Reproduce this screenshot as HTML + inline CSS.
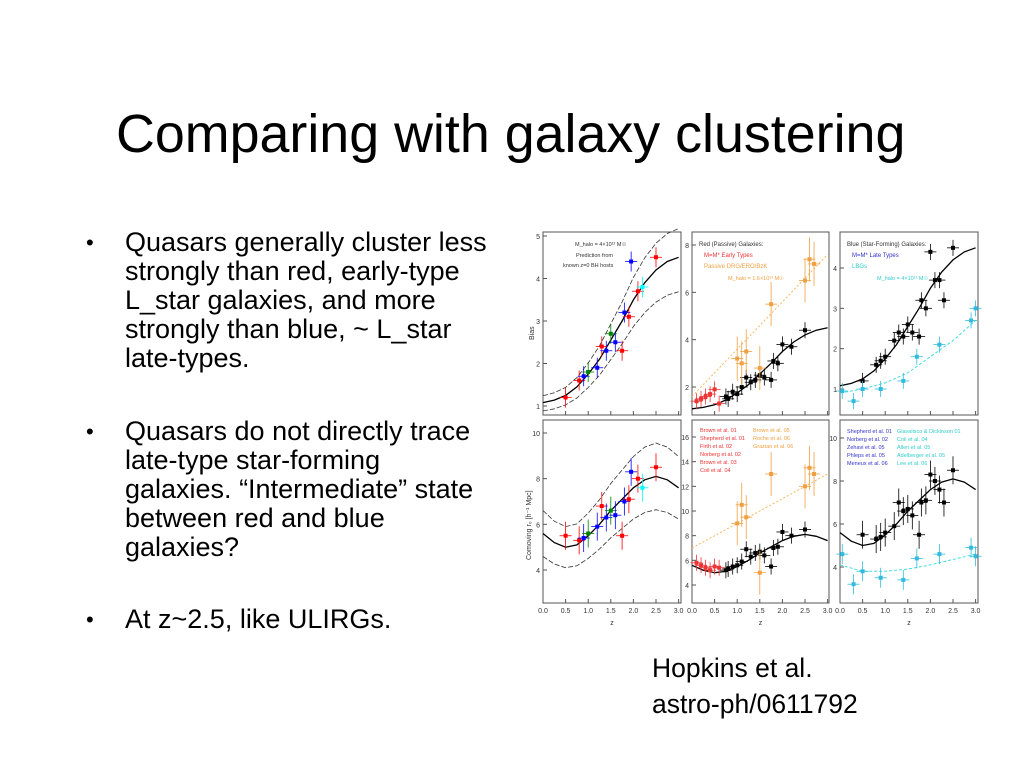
<!DOCTYPE html>
<html><head><meta charset="utf-8"><style>
body{margin:0;width:1024px;height:768px;background:#fff;position:relative;overflow:hidden;font-family:"Liberation Sans",sans-serif;color:#000}
h1{position:absolute;left:116px;top:103px;margin:0;font-weight:normal;font-size:53.8px;letter-spacing:0px;white-space:nowrap}
ul{position:absolute;left:86px;top:228px;width:440px;margin:0;padding:0;list-style:none;font-size:27px;line-height:29px;white-space:nowrap}
li{position:relative;padding-left:39px;margin-bottom:43.5px}
li:before{content:"•";position:absolute;left:0;top:0;font-size:22px}
.cite{position:absolute;left:652px;top:650px;font-size:26.5px;line-height:36px}
svg{position:absolute;left:0;top:0}
</style></head><body>
<h1>Comparing with galaxy clustering</h1>
<ul>
<li>Quasars generally cluster less<br>strongly than red, early-type<br>L_star galaxies, and more<br>strongly than blue, ~ L_star<br>late-types.</li>
<li>Quasars do not directly trace<br>late-type star-forming<br>galaxies. “Intermediate” state<br>between red and blue<br>galaxies?</li>
<li>At z~2.5, like ULIRGs.</li>
</ul>
<div class="cite">Hopkins et al.<br>astro-ph/0611792</div>
<svg id="fig" width="1024" height="768"></svg>
<script>
const zTicks=[0,0.5,1,1.5,2,2.5,3];
const zTickLabels=["0.0","0.5","1.0","1.5","2.0","2.5","3.0"];
const predZ=[0,0.25,0.5,0.75,1,1.25,1.5,1.75,2,2.25,2.5,2.75,3];
const predBias=[1.08,1.14,1.25,1.45,1.75,2.1,2.55,3.0,3.5,3.9,4.2,4.4,4.5];
const predR0=[5.6,5.2,5.0,5.1,5.5,6.0,6.6,7.1,7.6,7.95,8.1,7.95,7.6];
const qsoZ=[0.5,0.8,0.9,1.0,1.2,1.3,1.4,1.5,1.6,1.75,1.8,1.9,1.95,2.1,2.2,2.5];
const qsoBias=[1.2,1.6,1.7,1.8,1.9,2.4,2.3,2.7,2.5,2.3,3.2,3.1,4.4,3.7,3.8,4.5];
const qsoR0=[5.5,5.3,5.4,5.6,5.9,6.8,6.3,6.6,6.4,5.5,7.0,7.1,8.3,8.0,7.6,8.5];
const qsoColors=["red","red","blue","green","blue","red","blue","green","blue","red","blue","red","blue","red","cyan","red"];
const redZ=[0.1,0.2,0.3,0.4,0.5,0.6,0.75,0.8,0.9,1.0,1.1,1.2,1.3,1.4,1.5,1.6,1.75,1.8,1.9,2.0,2.2,2.5];
const redBias=[1.4,1.5,1.6,1.7,1.9,1.3,1.6,1.5,1.8,1.7,2.0,2.4,2.2,2.3,2.5,2.4,2.3,3.1,3.0,3.8,3.7,4.4];
const redR0=[5.8,5.6,5.4,5.2,5.5,5.4,5.2,5.3,5.5,5.6,5.9,6.9,6.3,6.6,6.7,6.4,5.5,7.0,7.1,8.3,8.0,8.5];
const oraZ=[1.0,1.1,1.2,1.5,1.75,2.5,2.6,2.7];
const oraBias=[3.2,3.0,3.5,2.8,5.5,6.5,7.4,7.2];
const oraR0=[9,10.5,9.5,5,13,12,13.5,13];
const blueZ=[0.5,0.8,0.9,1.0,1.2,1.3,1.4,1.5,1.6,1.75,1.8,1.9,2.0,2.1,2.2,2.3,2.5];
const blueBias=[1.2,1.6,1.7,1.8,2.2,2.4,2.3,2.6,2.4,2.3,3.2,3.0,4.4,3.7,3.7,3.2,4.5];
const blueR0=[5.5,5.3,5.4,5.6,5.9,7.0,6.6,6.7,6.4,5.5,7.0,7.1,8.3,8.0,7.6,7.0,8.5];
const lbgZ=[0.05,0.3,0.5,0.9,1.4,1.7,2.2,2.9,3.0];
const lbgBias=[0.95,0.7,1.0,1.0,1.2,1.8,2.1,2.7,3.0];
const lbgR0=[4.6,3.2,3.8,3.5,3.4,4.4,4.6,4.9,4.5];
const NS="http://www.w3.org/2000/svg";
const fig=document.getElementById('fig');
function el(t,a,p){const e=document.createElementNS(NS,t);for(const k in a)e.setAttribute(k,a[k]);(p||fig).appendChild(e);return e;}
const cols=[[543,681],[692,829],[840,978]];
const rows=[[232,415],[420,603]];
const yr=[[1,406,5,236],[2,387,8,245],[1,389,4,268],[4,570,10,433],[4,585,16,437],[4,567,10,438]];
const yt=[[1,2,3,4,5],[2,4,6,8],[1,2,3,4],[4,6,8,10],[4,6,8,10,12,14,16],[4,6,8,10]];
const panels=[];
for(let r=0;r<2;r++)for(let c=0;c<3;c++){
 const i=r*3+c,[x0,x1]=cols[c],[y0,y1]=rows[r],R=yr[i];
 const X=z=>x0+z*45.2, Y=v=>R[1]+(v-R[0])*(R[3]-R[1])/(R[2]-R[0]);
 panels.push({X,Y,x0,x1,y0,y1});
 const g=el('g',{});
 
 
 el('rect',{x:x0,y:y0,width:x1-x0,height:y1-y0,fill:'none',stroke:'#555','stroke-width':1},g);
 yt[i].forEach(v=>{const y=Y(v);el('line',{x1:x0,x2:x0+4,y1:y,y2:y,stroke:'#555'},g);const t=el('text',{x:x0-3,y:y+3,'font-size':7,'text-anchor':'end',fill:'#333'},g);t.textContent=v;});
 zTicks.forEach((z,k)=>{const x=X(z);el('line',{x1:x,x2:x,y1:y1,y2:y1-4,stroke:'#555'},g);if(r==1){const t=el('text',{x:x,y:y1+10,'font-size':7,'text-anchor':'middle',fill:'#333'},g);t.textContent=zTickLabels[k];}});
 if(r==1){const t=el('text',{x:(x0+x1)/2,y:y1+22,'font-size':7,'text-anchor':'middle',fill:'#333'},g);t.textContent='z';}
}
function curve(p,zs,vs,st,dash,w){let d='';zs.forEach((z,k)=>{d+=(k?'L':'M')+p.X(z).toFixed(1)+','+p.Y(vs[k]).toFixed(1);});const e=el('path',{d:d,fill:'none',stroke:st,'stroke-width':w||1.2});if(dash)e.setAttribute('stroke-dasharray',dash);}
function pts(p,zs,vs,colors,err){zs.forEach((z,k)=>{const x=p.X(z),y=p.Y(vs[k]),c=typeof colors=='string'?colors:colors[k];
 const g=el('g',{});
 el('line',{x1:x-6,x2:x+6,y1:y,y2:y,stroke:c,'stroke-width':0.8},g);
 el('line',{x1:x,x2:x,y1:y-err,y2:y+err,stroke:c,'stroke-width':0.8},g);
 el('rect',{x:x-2,y:y-2,width:4,height:4,fill:c},g);});}
function scale(vs,f){return vs.map(v=>v*f);}
curve(panels[0],predZ,predBias,'#000',null,1.3);
curve(panels[0],predZ,scale(predBias,1.15),'#333','5,2',0.8);
curve(panels[0],predZ,scale(predBias,0.82),'#333','5,2',0.8);
pts(panels[0],qsoZ,qsoBias,qsoColors,10);
curve(panels[1],predZ,predBias,'#000',null,1.3);
curve(panels[1],[0,3],[1.6,7.6],'#f5b860','2,2',1);
pts(panels[1],redZ,redBias,redZ.map(z=>z<0.7?'#e33':'#000'),8);
pts(panels[1],oraZ,oraBias,'#f0a040',22);
curve(panels[2],predZ,predBias,'#000',null,1.3);
curve(panels[2],[0,0.5,1,1.5,2,2.5,3],[0.9,1.0,1.15,1.4,1.8,2.2,2.7],'#4dd','3,2',1);
pts(panels[2],blueZ,blueBias,'#000',8);
pts(panels[2],lbgZ,lbgBias,'#3bd',8);
curve(panels[3],predZ,predR0,'#000',null,1.3);
curve(panels[3],predZ,scale(predR0,1.18),'#333','5,2',0.8);
curve(panels[3],predZ,scale(predR0,0.82),'#333','5,2',0.8);
pts(panels[3],qsoZ,qsoR0,qsoColors,14);
curve(panels[4],predZ,predR0,'#000',null,1.3);
curve(panels[4],[0,3],[7,13],'#f5b860','2,2',1);
pts(panels[4],redZ,redR0,redZ.map(z=>z<0.7?'#e33':'#000'),8);
pts(panels[4],oraZ,oraR0,'#f0a040',22);
curve(panels[5],predZ,predR0,'#000',null,1.3);
curve(panels[5],[0,0.5,1,1.5,2,2.5,3],[4.1,3.8,3.8,3.9,4.1,4.35,4.6],'#4dd','3,2',1);
pts(panels[5],blueZ,blueR0,'#000',14);
pts(panels[5],lbgZ,lbgR0,'#3bd',10);
function txt(x,y,s,c,sz,rot,name){const t=el('text',{x:x,y:y,'font-size':sz||6,fill:c||'#333'});if(rot)t.setAttribute('transform','rotate(-90 '+x+' '+y+')');t.textContent=s;}
txt(534,340,'Bias','#333',7,true,'y-axis-title-bias');
txt(531,560,'Comoving r₀ [h⁻¹ Mpc]','#333',7,true,'y-axis-title-r0');
txt(575,246,'M_halo = 4×10¹² M☉','#333',5.5);
txt(576,257,'Prediction from','#333',5.5);
txt(563,267,'known z=0 BH hosts','#333',5.5);
txt(699,246,'Red (Passive) Galaxies:','#333',6);
txt(704,257,'M=M* Early Types','#e33',6);
txt(704,268,'Passive DRG/ERO/BzK','#f0a040',6);
txt(728,280,'M_halo = 1.6×10¹³ M☉','#f0a040',5.5);
txt(847,246,'Blue (Star-Forming) Galaxies:','#333',6);
txt(852,257,'M=M* Late Types','#33c',6);
txt(852,268,'LBGs','#3cc',6);
txt(877,280,'M_halo = 4×10¹¹ M☉','#3cc',5.5);
['Brown et al. 01','Shepherd et al. 01','Firth et al. 02','Norberg et al. 02','Brown et al. 03','Coil et al. 04'].forEach((s,k)=>txt(700,432+k*8,s,'#e33',5.5,false,'legend-entry'));
['Brown et al. 05','Roche et al. 06','Grazian et al. 06'].forEach((s,k)=>txt(753,432+k*8,s,'#f0a040',5.5,false,'legend-entry'));
['Shepherd et al. 01','Norberg et al. 02','Zehavi et al. 05','Phleps et al. 05','Meneux et al. 06'].forEach((s,k)=>txt(847,433+k*8,s,'#33c',5.5,false,'legend-entry'));
['Giavalisco & Dickinson 01','Coil et al. 04','Allen et al. 05','Adelberger et al. 05','Lee et al. 06'].forEach((s,k)=>txt(897,433+k*8,s,'#3cc',5.5,false,'legend-entry'));
</script>
</body></html>
